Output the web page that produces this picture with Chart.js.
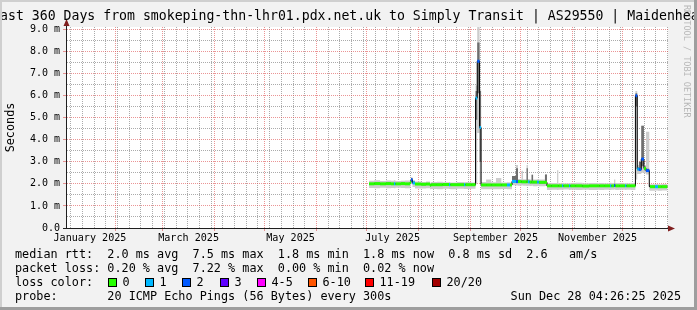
<!DOCTYPE html>
<html lang="en">
<head>
<meta charset="UTF-8">
<title>Last 360 Days - Simply Transit | AS29550</title>
<script src="https://cdn.jsdelivr.net/npm/chart.js"></script>
<style>
  html, body { margin: 0; padding: 0; background: #f2f2f2; }
  canvas { display: block; }
</style>
</head>
<body>
<canvas id="smoke" width="697" height="310"></canvas>
<script>
// x values are days since 2025-01-01 00:00
const rangeStart = 1.185;   // Thu Jan 02 04:26:25 2025
const rangeEnd = 361.185;   // Sun Dec 28 04:26:25 2025

const monthStarts = [31, 59, 90, 120, 151, 181, 212, 243, 273, 304, 334];
const firstSunday = 4;
const xLabels = ['January 2025', 'March 2025', 'May 2025', 'July 2025', 'September 2025', 'November 2025'];
const xLabelDays = [15.5, 74.5, 135.5, 196.5, 258, 319];

const yTicks = [0, 1, 2, 3, 4, 5, 6, 7, 8, 9];
const yTickLabels = ['0.0', '1.0 m', '2.0 m', '3.0 m', '4.0 m', '5.0 m', '6.0 m', '7.0 m', '8.0 m', '9.0 m'];

// median rtt (ms), each value holds until the next day entry
const days = [182.4, 185.5, 189.0, 192.5, 195.5, 197.3, 198.2, 201.5, 203.9, 206.9,
  207.5, 208.4, 209.9, 213.5, 216.5, 218.9, 219.5, 223.0, 226.5, 230.2,
  231.0, 235.0, 239.2, 240.0, 243.5, 246.1, 247.1, 248.5, 249.4, 252.4,
  255.5, 258.3, 261.5, 264.9, 266.7, 267.9, 270.3, 271.5, 273.6, 274.5,
  276.6, 277.4, 278.5, 279.6, 280.5, 282.9, 284.0, 287.6, 288.8, 291.5,
  294.8, 295.6, 297.8, 298.6, 302.0, 302.8, 306.0, 310.0, 314.0, 319.3,
  320.2, 323.0, 326.5, 327.3, 328.9, 329.7, 332.0, 335.5, 336.3, 339.0,
  341.7, 342.8, 343.8, 345.2, 346.8, 348.0, 350.0, 350.4, 353.4, 355.2,
  357.5, 360.8];
const median = [2.00, 2.01, 2.00, 2.01, 2.00, 2.00, 2.00, 2.01, 2.00, 2.06,
  2.18, 2.04, 1.99, 1.98, 1.99, 1.93, 1.96, 1.96, 1.97, 1.96,
  1.96, 1.96, 1.96, 1.96, 1.96, 5.88, 7.55, 4.55, 1.95, 1.95,
  1.95, 1.95, 1.95, 1.95, 1.95, 2.11, 2.10, 2.10, 2.09, 2.09,
  2.09, 2.09, 2.08, 2.08, 2.08, 2.08, 2.07, 2.07, 1.91, 1.91,
  1.91, 1.91, 1.91, 1.91, 1.91, 1.91, 1.91, 1.90, 1.91, 1.91,
  1.91, 1.91, 1.91, 1.91, 1.92, 1.91, 1.91, 1.91, 1.91, 1.91,
  5.99, 2.67, 2.65, 3.12, 2.70, 2.60, 1.88, 1.87, 1.87, 1.87,
  1.87, 1.87];
// lost pings out of 20
const loss = [0, 0, 0, 0, 0, 1, 0, 0, 0, 0,
  2, 1, 0, 0, 0, 0, 0, 0, 0, 1,
  0, 0, 1, 0, 0, 1, 2, 1, 0, 0,
  0, 0, 0, 1, 0, 1, 2, 0, 0, 0,
  0, 1, 0, 0, 0, 1, 0, 0, 0, 0,
  0, 0, 1, 0, 1, 0, 0, 0, 0, 0,
  0, 0, 1, 0, 2, 0, 0, 1, 0, 0,
  2, 1, 2, 2, 0, 2, 2, 0, 1, 0,
  0, 0];
// smoke: outer spread of the pings
const smokeLow = [1.81, 1.80, 1.82, 1.80, 1.81, 1.80, 1.82, 1.81, 1.80, 1.88,
  2.00, 1.86, 1.79, 1.79, 1.80, 1.76, 1.77, 1.76, 1.78, 1.77,
  1.76, 1.78, 1.77, 1.77, 1.78, 2.00, 4.30, 2.05, 1.75, 1.76,
  1.76, 1.75, 1.77, 1.76, 1.75, 1.93, 1.92, 1.91, 1.92, 1.91,
  1.90, 1.91, 1.90, 1.91, 1.89, 1.90, 1.89, 1.90, 1.72, 1.73,
  1.72, 1.73, 1.72, 1.74, 1.72, 1.73, 1.72, 1.73, 1.72, 1.73,
  1.72, 1.73, 1.72, 1.73, 1.74, 1.72, 1.73, 1.72, 1.73, 1.72,
  2.20, 2.45, 2.45, 2.50, 2.48, 2.42, 1.70, 1.69, 1.70, 1.69,
  1.70, 1.70];
const smokeHigh = [2.14, 2.16, 2.13, 2.15, 2.14, 2.16, 2.13, 2.14, 2.15, 2.20,
  2.30, 2.16, 2.10, 2.08, 2.11, 2.05, 2.08, 2.09, 2.07, 2.08,
  2.06, 2.08, 2.07, 2.08, 2.06, 6.45, 9.30, 6.30, 2.08, 2.20,
  2.07, 2.26, 2.06, 2.07, 2.06, 2.30, 2.85, 2.22, 2.59, 2.21,
  2.85, 2.22, 2.20, 2.45, 2.20, 2.21, 2.20, 2.42, 2.03, 2.04,
  2.62, 2.03, 2.04, 2.03, 2.04, 2.03, 2.05, 2.03, 2.04, 2.03,
  2.04, 2.03, 2.05, 2.04, 2.20, 2.04, 2.03, 2.04, 2.03, 2.04,
  6.20, 2.85, 2.90, 4.63, 2.85, 4.36, 2.00, 1.98, 1.99, 1.98,
  1.99, 1.99];
// smoke: dense core of the pings
const coreLow = [1.96, 1.97, 1.96, 1.97, 1.96, 1.96, 1.96, 1.97, 1.96, 2.00,
  2.12, 1.99, 1.95, 1.94, 1.95, 1.89, 1.92, 1.92, 1.93, 1.92,
  1.92, 1.92, 1.92, 1.92, 1.92, 4.90, 6.10, 3.00, 1.91, 1.91,
  1.91, 1.91, 1.91, 1.91, 1.91, 2.05, 2.04, 2.05, 2.04, 2.04,
  2.04, 2.04, 2.03, 2.03, 2.03, 2.03, 2.02, 2.02, 1.87, 1.87,
  1.87, 1.87, 1.87, 1.87, 1.87, 1.87, 1.87, 1.86, 1.87, 1.87,
  1.87, 1.87, 1.87, 1.87, 1.88, 1.87, 1.87, 1.87, 1.87, 1.87,
  5.50, 2.60, 2.60, 2.80, 2.62, 2.55, 1.84, 1.83, 1.83, 1.83,
  1.83, 1.83];
const coreHigh = [2.04, 2.05, 2.04, 2.06, 2.04, 2.05, 2.04, 2.05, 2.04, 2.12,
  2.26, 2.10, 2.03, 2.02, 2.03, 1.97, 2.00, 2.00, 2.01, 2.00,
  2.00, 2.00, 2.00, 2.00, 2.00, 6.20, 8.40, 6.20, 1.99, 1.99,
  1.99, 1.99, 1.99, 1.99, 1.99, 2.35, 2.71, 2.15, 2.14, 2.14,
  2.70, 2.14, 2.13, 2.40, 2.13, 2.13, 2.12, 2.42, 1.95, 1.95,
  1.95, 1.95, 1.95, 1.95, 1.95, 1.95, 1.95, 1.94, 1.95, 1.95,
  1.95, 1.95, 1.95, 1.95, 2.00, 1.95, 1.95, 1.95, 1.95, 1.95,
  6.10, 2.75, 3.00, 4.63, 2.78, 2.68, 1.92, 1.91, 1.91, 1.91,
  1.91, 1.91];

const lossLabels = ['0', '1', '2', '3', '4-5', '6-10', '11-19', '20/20'];
const lossColors = ['#26ff00', '#00b8ff', '#0059ff', '#5e00ff', '#ff00ff', '#ff5500', '#ff0000', '#a10000'];

const rttLine = 'median rtt:  2.0 ms avg  7.5 ms max  1.8 ms min  1.8 ms now  0.8 ms sd  2.6   am/s';
const lossLine = 'packet loss: 0.20 % avg  7.22 % max  0.00 % min  0.02 % now';
const probeLine = 'probe:       20 ICMP Echo Pings (56 Bytes) every 300s';
const stampText = 'Sun Dec 28 04:26:25 2025';
const titleText = 'Last 360 Days from smokeping-thn-lhr01.pdx.net.uk to Simply Transit | AS29550 | Maidenhead';

const MONO = "'DejaVu Sans Mono', monospace";
// rrdtool default palette
const majorGrid = 'rgba(222, 79, 79, 0.6)';
const minorGrid = 'rgba(143, 143, 143, 0.75)';
const axisColor = '#1f1f1f';
const arrowColor = '#801f1f';

// tick lists for both axes (weeks start on Sunday)
const xTickList = [];
for (let d = firstSunday; d <= rangeEnd; d += 7) {
    if (!monthStarts.includes(d)) xTickList.push({ value: d, kind: 'week' });
}
monthStarts.forEach(d => xTickList.push({ value: d, kind: 'month' }));
xLabelDays.forEach((d, i) => xTickList.push({ value: d, kind: 'label', text: xLabels[i] }));
xTickList.sort((a, b) => a.value - b.value);

const yTickList = [];
yTicks.forEach((v, i) => {
    yTickList.push({ value: v, kind: 'major', text: yTickLabels[i] });
    if (v < 9) yTickList.push({ value: v + 0.5, kind: 'minor', text: '' });
});

// colored median: one short bar per step, broken between steps
const medianBars = [];
const barLoss = [];
for (let i = 0; i < days.length - 1; i++) {
    medianBars.push({ x: days[i], y: median[i] }, { x: days[i + 1], y: median[i] }, { x: days[i + 1], y: null });
    barLoss.push(loss[i], loss[i], loss[i]);
}
const pts = arr => days.map((d, i) => ({ x: d, y: arr[i] }));

const decor = {
    id: 'decor',
    beforeDraw(chart) {
        const { ctx, chartArea: a } = chart;
        ctx.save();
        ctx.fillStyle = '#f2f2f2';
        ctx.fillRect(0, 0, chart.width, chart.height);
        ctx.fillStyle = '#ffffff';
        ctx.fillRect(a.left, a.top, a.right - a.left, a.bottom - a.top);
        ctx.restore();
    },
    afterDraw(chart) {
        const { ctx } = chart;
        ctx.save();

        // axis extensions and arrows
        ctx.strokeStyle = axisColor;
        ctx.lineWidth = 1;
        ctx.beginPath();
        ctx.moveTo(66.5, 22); ctx.lineTo(66.5, 229);
        ctx.moveTo(63, 228.5); ctx.lineTo(669, 228.5);
        ctx.stroke();
        ctx.fillStyle = arrowColor;
        ctx.beginPath();
        ctx.moveTo(66.5, 19); ctx.lineTo(63.5, 26); ctx.lineTo(69.5, 26); ctx.closePath();
        ctx.fill();
        ctx.beginPath();
        ctx.moveTo(675, 228.5); ctx.lineTo(668, 225.5); ctx.lineTo(668, 231.5); ctx.closePath();
        ctx.fill();

        // watermark
        ctx.save();
        ctx.translate(686, 5);
        ctx.rotate(Math.PI / 2);
        ctx.font = '8.5px ' + MONO;
        ctx.fillStyle = '#b8b8b8';
        ctx.textBaseline = 'middle';
        ctx.fillText('RRDTOOL / TOBI OETIKER', 0, 0);
        ctx.restore();

        // title
        ctx.fillStyle = '#000';
        ctx.font = '13.2px ' + MONO;
        ctx.textBaseline = 'middle';
        ctx.textAlign = 'left';
        ctx.fillText(titleText, -ctx.measureText('L').width, 16.5);

        // frame
        ctx.fillStyle = '#cfcfcf';
        ctx.fillRect(0, 0, 697, 2);
        ctx.fillRect(0, 0, 2, 310);
        ctx.fillStyle = '#9e9e9e';
        ctx.fillRect(0, 307, 697, 3);
        ctx.fillRect(694, 0, 3, 310);

        // legend
        ctx.font = '11.8px ' + MONO;
        ctx.fillStyle = '#000';
        ctx.fillText(rttLine, 15, 254.5);
        ctx.fillText(lossLine, 15, 268.5);
        ctx.fillText('loss color:', 15, 282.5);
        ctx.fillText(probeLine, 15, 296.5);
        ctx.textAlign = 'right';
        ctx.fillText(stampText, 681, 296.5);
        ctx.textAlign = 'left';

        const boxX = [108, 145, 182, 220, 257, 308, 365, 432];
        lossLabels.forEach((lab, i) => {
            ctx.fillStyle = lossColors[i];
            ctx.fillRect(boxX[i], 278, 9, 9);
            ctx.strokeStyle = '#000';
            ctx.strokeRect(boxX[i] + 0.5, 278.5, 8, 8);
            ctx.fillStyle = '#000';
            ctx.fillText(lab, boxX[i] + 14.5, 282.5);
        });
        ctx.restore();
    }
};

function renderChart() {
    const ctx = document.getElementById('smoke').getContext('2d');
    new Chart(ctx, {
        type: 'line',
        data: {
            datasets: [
                {
                    data: medianBars, borderWidth: 3, pointRadius: 0, spanGaps: false,
                    segment: { borderColor: c => lossColors[barLoss[c.p0DataIndex]] }
                },
                { data: pts(median), stepped: true, borderColor: '#000', borderWidth: 1, pointRadius: 0 },
                { data: pts(coreHigh), stepped: true, borderWidth: 0, pointRadius: 0, fill: '+1', backgroundColor: '#6e6e6e' },
                { data: pts(coreLow), stepped: true, borderWidth: 0, pointRadius: 0, fill: false },
                { data: pts(smokeHigh), stepped: true, borderWidth: 0, pointRadius: 0, fill: '+1', backgroundColor: '#cdcdcd' },
                { data: pts(smokeLow), stepped: true, borderWidth: 0, pointRadius: 0, fill: false }
            ]
        },
        options: {
            responsive: false,
            devicePixelRatio: 1,
            animation: false,
            events: [],
            layout: { padding: { left: 0, top: 27, right: 29, bottom: 62 } },
            plugins: { legend: { display: false }, tooltip: { enabled: false } },
            scales: {
                x: {
                    type: 'linear',
                    min: rangeStart,
                    max: rangeEnd,
                    afterFit: s => { s.height = 20; },
                    afterBuildTicks: s => { s.ticks = xTickList.map(t => ({ ...t })); },
                    ticks: {
                        autoSkip: false, maxRotation: 0, padding: 1,
                        font: { family: MONO, size: 10.1 }, color: '#000',
                        callback: (v, i) => xTickList[i].kind === 'label' ? xTickList[i].text : ''
                    },
                    grid: {
                        tickLength: 3,
                        color: xTickList.map(t => t.kind === 'month' ? majorGrid : t.kind === 'week' ? minorGrid : 'rgba(0,0,0,0)'),
                        tickColor: xTickList.map(t => t.kind === 'month' ? majorGrid : 'rgba(0,0,0,0)')
                    },
                    border: { color: axisColor, dash: [1, 1] }
                },
                y: {
                    min: 0,
                    max: 9.1,
                    afterFit: s => { s.width = 66; },
                    afterBuildTicks: s => { s.ticks = yTickList.map(t => ({ ...t })); },
                    ticks: {
                        autoSkip: false, padding: 3,
                        font: { family: MONO, size: 10 }, color: '#000',
                        callback: (v, i) => yTickList[i].text
                    },
                    title: {
                        display: true, text: 'Seconds', color: '#000',
                        font: { family: MONO, size: 11.8 }, padding: { top: 3.5, bottom: 0 }
                    },
                    grid: {
                        tickLength: 3,
                        color: yTickList.map(t => t.value === 0 ? 'rgba(0,0,0,0)' : t.kind === 'major' ? majorGrid : minorGrid),
                        tickColor: yTickList.map(t => t.kind === 'major' ? majorGrid : 'rgba(0,0,0,0)')
                    },
                    border: { color: axisColor, dash: [1, 1] }
                }
            }
        },
        plugins: [decor]
    });
}

document.addEventListener('DOMContentLoaded', renderChart);
</script>
</body>
</html>
